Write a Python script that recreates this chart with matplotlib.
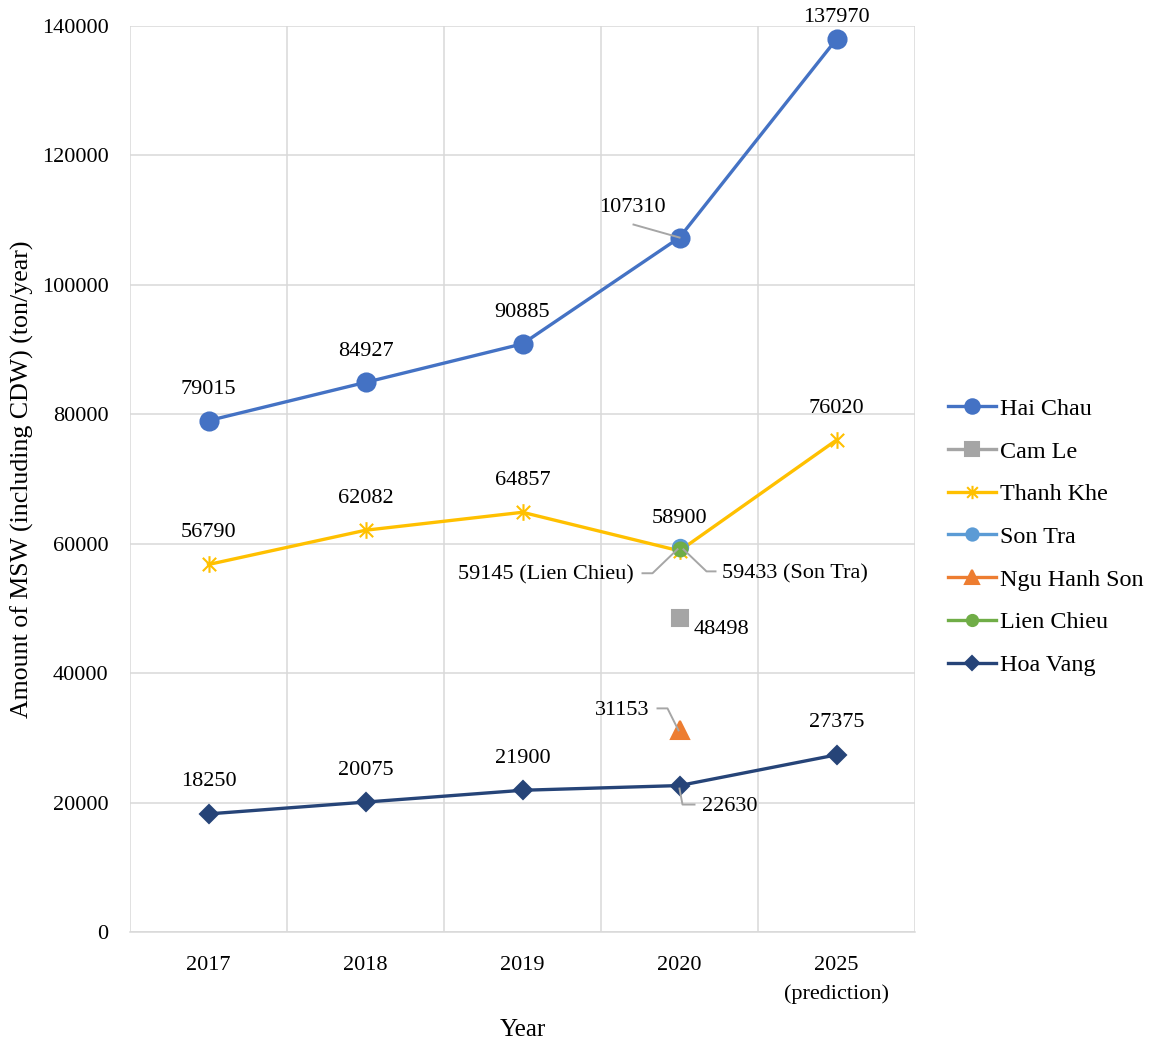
import numpy as np
import matplotlib
matplotlib.use("Agg")
import matplotlib.pyplot as plt
from matplotlib.path import Path

plt.rcParams['font.family'] = ['Liberation Serif', 'DejaVu Serif']

years = ["2017", "2018", "2019", "2020", "2025\n(prediction)"]
hai_chau = [79015, 84927, 90885, 107310, 137970]
thanh_khe = [56790, 62082, 64857, 58900, 76020]
hoa_vang = [18250, 20075, 21900, 22630, 27375]
cam_le = [np.nan, np.nan, np.nan, 48498, np.nan]
son_tra = [np.nan, np.nan, np.nan, 59433, np.nan]
ngu_hanh_son = [np.nan, np.nan, np.nan, 31153, np.nan]
lien_chieu = [np.nan, np.nan, np.nan, 59145, np.nan]
yticks = [0, 20000, 40000, 60000, 80000, 100000, 120000, 140000]

FS = 16
LFS = 17.4
GRID = '#D9D9D9'
LEAD = '#A6A6A6'

# Excel-style asterisk marker: x plus vertical bar
star = Path([(-1, -1), (1, 1), (-1, 1), (1, -1), (0, -1.25), (0, 1.25)],
            [Path.MOVETO, Path.LINETO, Path.MOVETO, Path.LINETO, Path.MOVETO, Path.LINETO])

fig = plt.figure(figsize=(11.55, 10.42), dpi=100)
ax = fig.add_axes([130/1155, 1-932/1042, (915-130)/1155, (932-26)/1042])
x = np.arange(len(years))

series = [
    ("Hai Chau", hai_chau, '#4472C4', 'o', 13),
    ("Cam Le", cam_le, '#A5A5A5', 's', 12),
    ("Thanh Khe", thanh_khe, '#FFC000', star, 12),
    ("Son Tra", son_tra, '#5B9BD5', 'o', 11),
    ("Ngu Hanh Son", ngu_hanh_son, '#ED7D31', '^', 13),
    ("Lien Chieu", lien_chieu, '#70AD47', 'o', 10),
    ("Hoa Vang", hoa_vang, '#264478', 'D', 9),
]
for name, vals, col, mk, ms in series:
    ax.plot(x, vals, color=col, lw=2.4, marker=mk, markersize=ms,
            markeredgecolor=col, markerfacecolor=col, markeredgewidth=1.5,
            label=name, zorder=3, clip_on=False)

ax.set_xlim(-0.5, len(years) - 0.5)
ax.set_ylim(0, 140000)
ax.set_yticks(yticks)
ax.set_yticklabels([str(v) for v in yticks])
ax.set_xticks(x)
ax.set_xticklabels(years, linespacing=1.65)
ax.set_xticks(np.arange(-0.5, len(years)), minor=True)
ax.tick_params(axis='both', which='both', length=0, labelsize=FS)
ax.tick_params(axis='y', pad=15.5)
ax.tick_params(axis='x', pad=17)
ax.grid(True, axis='y', which='major', color=GRID, lw=1.1, zorder=0)
ax.grid(True, axis='x', which='minor', color=GRID, lw=1.1, zorder=0)
for s in ['top', 'right', 'left']:
    ax.spines[s].set_visible(False)
ax.spines['bottom'].set_color(GRID)
ax.spines['bottom'].set_linewidth(1.1)

# data labels (offsets in pixels from point)
def lab(xi, v, txt, dx, dy, ha='center'):
    ax.annotate(txt, (xi, v), xytext=(dx, dy), textcoords='offset pixels',
                ha=ha, va='center', fontsize=FS, zorder=5, annotation_clip=False)

for i, v in enumerate(hai_chau):
    if i == 3:
        lab(i, v, str(v), -47, 30)
    elif i == 4:
        lab(i, v, str(v), 0, 22)
    else:
        lab(i, v, str(v), 0, 31)
for i, v in enumerate(thanh_khe):
    lab(i, v, str(v), 0, 32)
for i, v in enumerate(hoa_vang):
    if i == 3:
        lab(i, v, str(v), 50, -21)
    else:
        lab(i, v, str(v), 0, 32)
lab(3, cam_le[3], str(cam_le[3]), 42, -11, ha='center')
lab(3, ngu_hanh_son[3], str(ngu_hanh_son[3]), -30, 20, ha='right')
lab(3, lien_chieu[3], f"{lien_chieu[3]} (Lien Chieu)", -46, -26, ha='right')
lab(3, son_tra[3], f"{son_tra[3]} (Son Tra)", 43, -26, ha='left')

# leader lines
fig.canvas.draw()
def leader(xi, v, offsets):
    px, py = ax.transData.transform((xi, v))
    xs = [px + o[0] for o in offsets]
    ys = [py + o[1] for o in offsets]
    fig.add_artist(plt.Line2D(xs, ys, transform=None, color=LEAD, lw=1.4, zorder=6))

leader(3, hai_chau[3], [(0, 0), (-46, 13)])
leader(3, lien_chieu[3], [(-2, 0), (-27, -24), (-37, -24)])
leader(3, son_tra[3], [(4, -2), (27, -24), (36, -24)])
leader(3, ngu_hanh_son[3], [(-1, 0), (-12, 22), (-22, 22)])
leader(3, hoa_vang[3], [(0, -3), (3, -19), (15, -19)])

ax.legend(loc='center left', bbox_to_anchor=(948/1155, 1-537/1042),
          bbox_transform=fig.transFigure, frameon=False, fontsize=LFS,
          handlelength=2.0, handletextpad=0.15, labelspacing=0.86,
          borderpad=0, borderaxespad=0, markerscale=0.8)

fig.text(22/1155, 1-479/1042, "Amount of MSW (including CDW) (ton/year)",
         rotation=90, ha='center', va='center', fontsize=18.6)
fig.text(523/1155, 1-1030/1042, "Year", ha='center', va='center', fontsize=18)

fig.savefig("out.png", dpi=100)
